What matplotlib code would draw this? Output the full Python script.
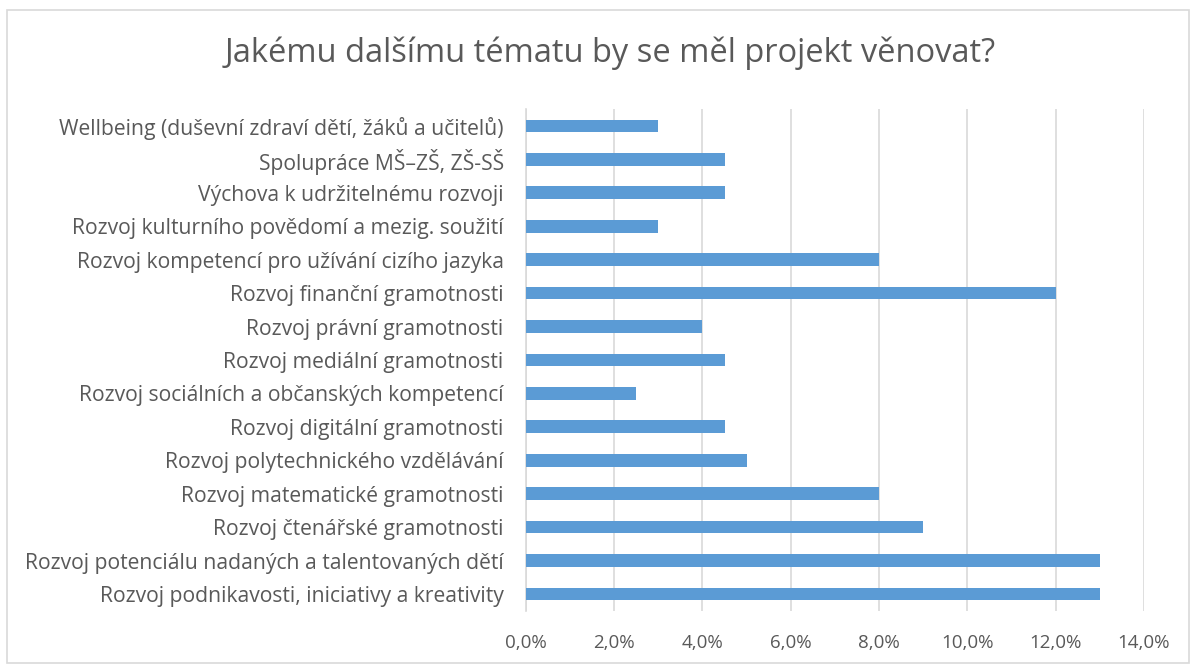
import numpy as np
import matplotlib.pyplot as plt
from matplotlib.ticker import FuncFormatter
from matplotlib.patches import Rectangle

plt.rcParams['font.family'] = ['Open Sans', 'DejaVu Sans']

# data (top -> bottom as in the picture)
temata = ['Wellbeing (duševní zdraví dětí, žáků a učitelů)',
          'Spolupráce MŠ–ZŠ, ZŠ-SŠ',
          'Výchova k udržitelnému rozvoji',
          'Rozvoj kulturního povědomí a mezig. soužití',
          'Rozvoj kompetencí pro užívání cizího jazyka',
          'Rozvoj finanční gramotnosti',
          'Rozvoj právní gramotnosti',
          'Rozvoj mediální gramotnosti',
          'Rozvoj sociálních a občanských kompetencí',
          'Rozvoj digitální gramotnosti',
          'Rozvoj polytechnického vzdělávání',
          'Rozvoj matematické gramotnosti',
          'Rozvoj čtenářské gramotnosti',
          'Rozvoj potenciálu nadaných a talentovaných dětí',
          'Rozvoj podnikavosti, iniciativy a kreativity']
podily = [3.0, 4.5, 4.5, 3.0, 8.0, 12.0, 4.0, 4.5, 2.5, 4.5, 5.0, 8.0, 9.0, 13.0, 13.0]

sedy = '#595959'

fig = plt.figure(figsize=(11.94, 6.66), dpi=100)
ax = fig.add_axes([0.4405, 0.083, 0.5175, 0.753])

y = np.arange(len(temata))[::-1]
ax.barh(y, podily, height=0.38, color='#5B9BD5', zorder=3)

ax.set_xlim(0, 14)
ax.set_ylim(-0.5, len(temata) - 0.5)
ax.set_xticks(np.arange(0, 15, 2))
ax.xaxis.set_major_formatter(FuncFormatter(lambda v, p: f'{v:.1f}%'.replace('.', ',')))
ax.set_yticks(y)
ax.set_yticklabels(temata)
ax.grid(axis='x', color='#D9D9D9', linewidth=1.2, zorder=0)
for s in ['top', 'right', 'bottom']:
    ax.spines[s].set_visible(False)
ax.spines['left'].set_color('#D9D9D9')
ax.spines['left'].set_linewidth(1.2)
ax.tick_params(axis='both', length=0, colors=sedy)
ax.tick_params(axis='x', pad=17, labelsize=13.5)
ax.tick_params(axis='y', pad=16, labelsize=15.2)

fig.text(0.511, 0.92, 'Jakému dalšímu tématu by se měl projekt věnovat?',
         ha='center', va='center', fontsize=23.5, color=sedy)

# ramecek kolem grafu
fig.patches.append(Rectangle((0.006, 0.004), 0.99, 0.981, transform=fig.transFigure,
                             fill=False, edgecolor='#D9D9D9', linewidth=1.2))

plt.savefig('out.png', dpi=100)
